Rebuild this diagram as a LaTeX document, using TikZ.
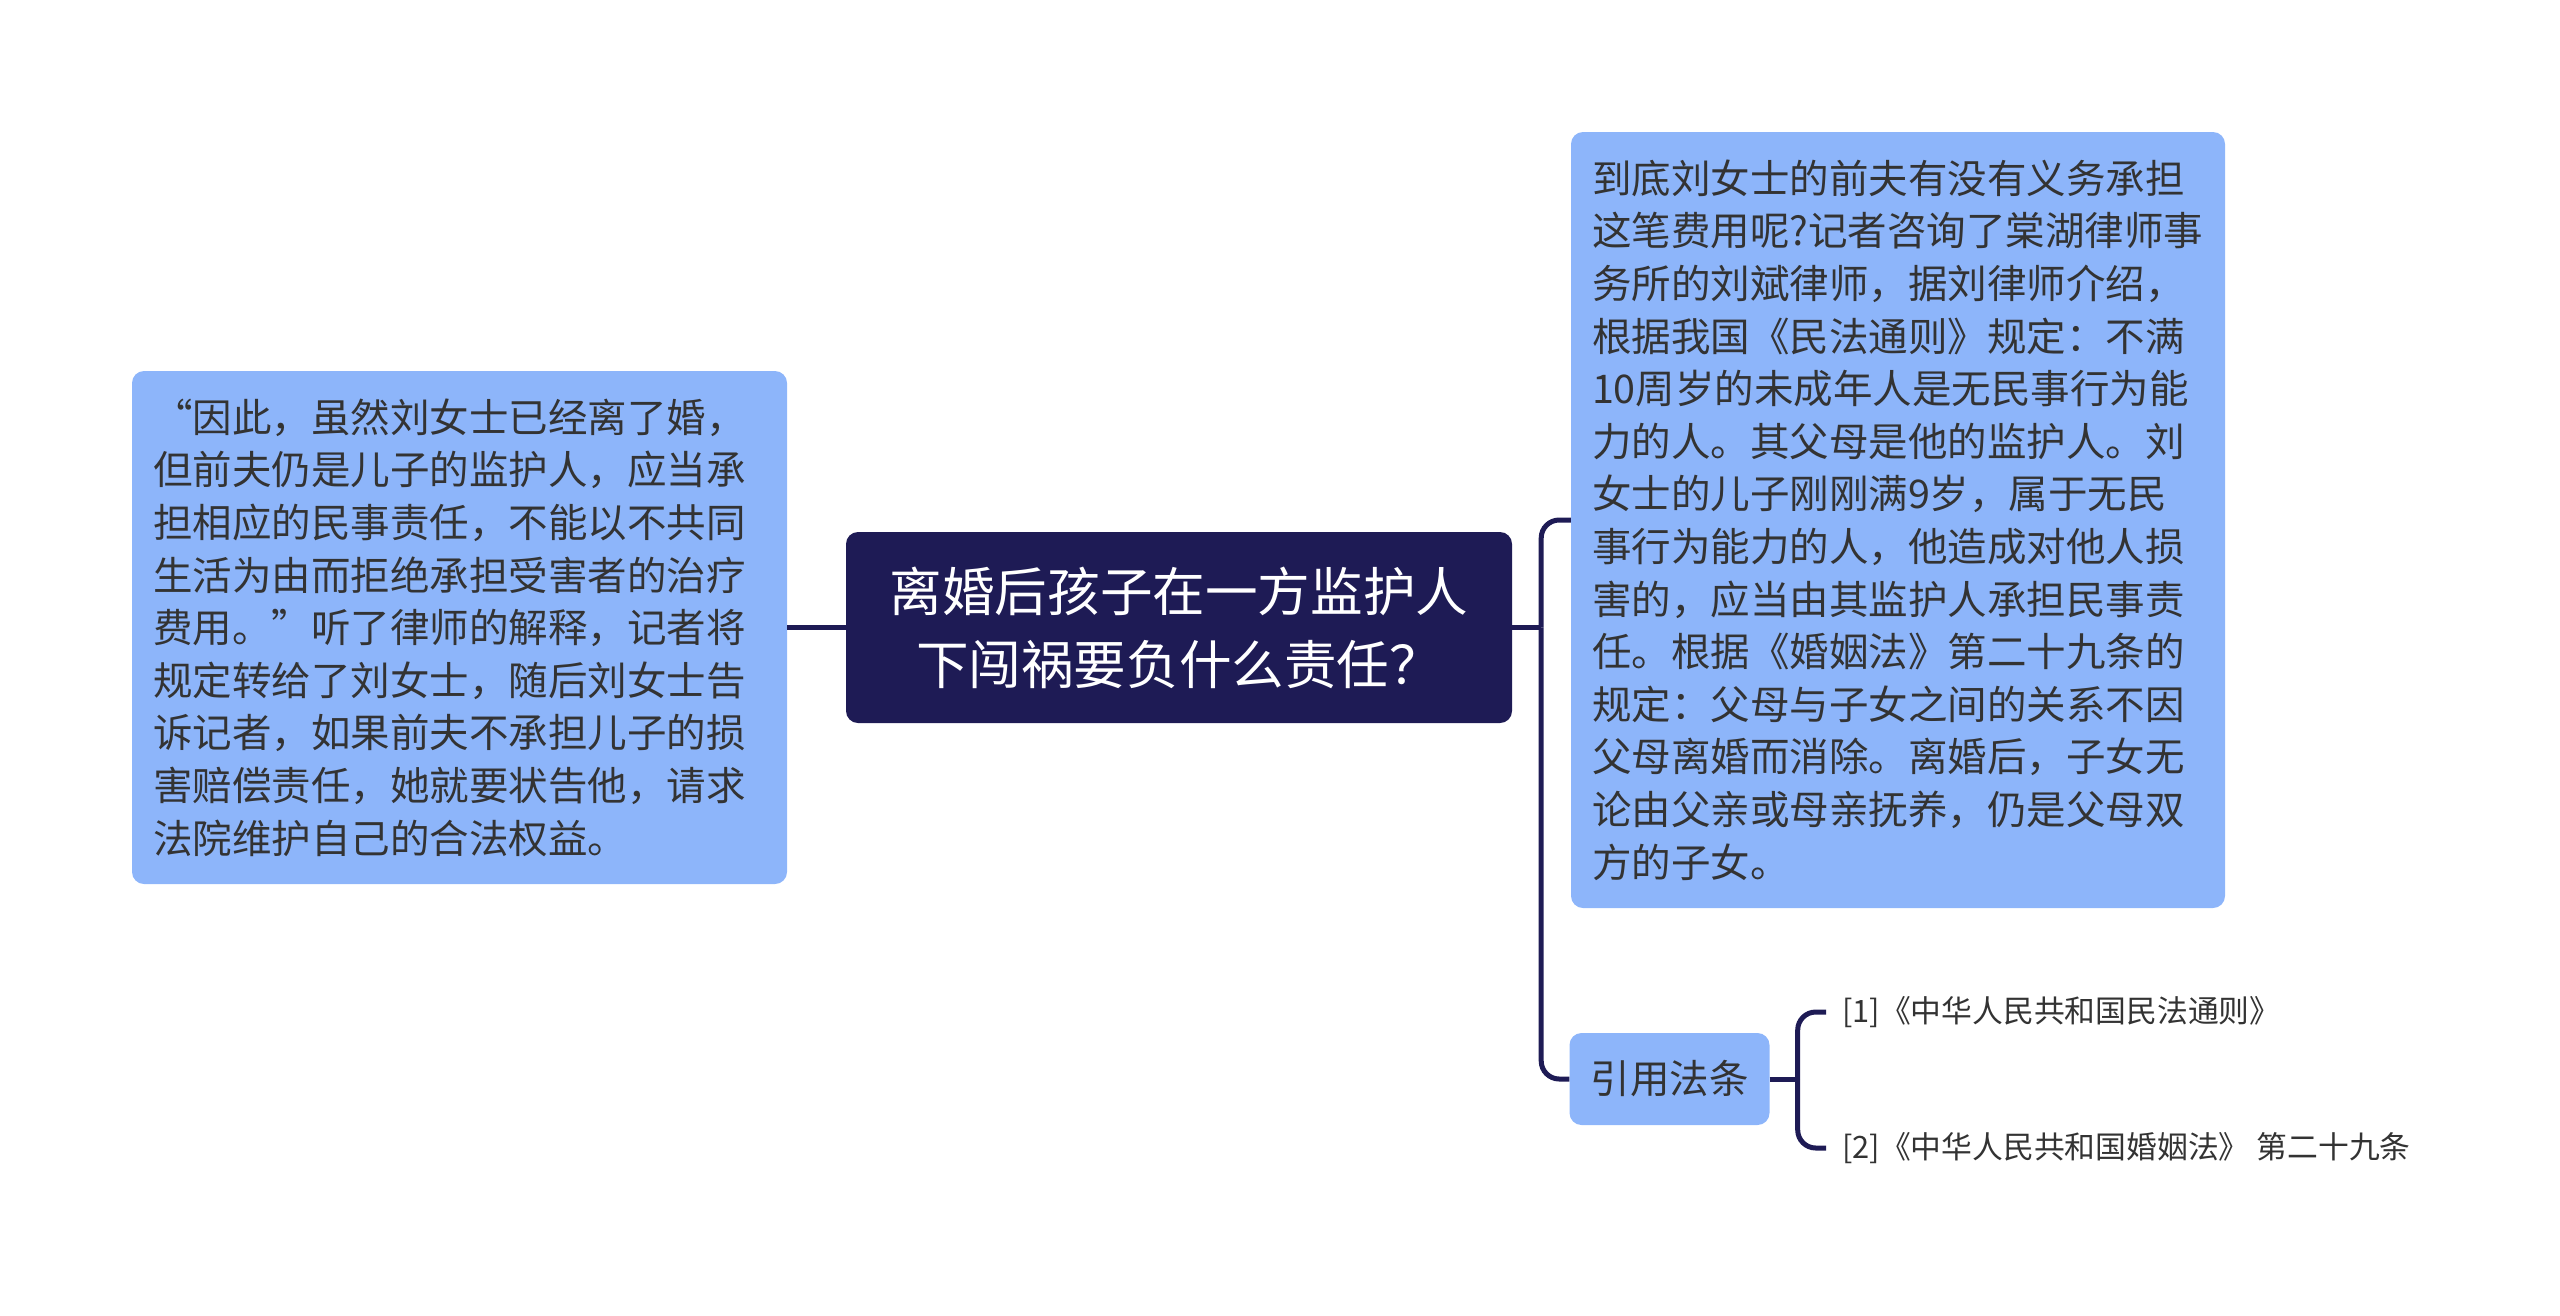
\documentclass[tikz,border=0pt]{standalone}
\usepackage{fontspec}
\setmainfont{Noto Sans CJK SC}
\usetikzlibrary{positioning}

\definecolor{navy}{HTML}{1E1B55}
\definecolor{leafblue}{HTML}{8DB5FA}
\definecolor{inktext}{HTML}{333333}

\begin{document}
\begin{tikzpicture}[
		x=1pt, y=-1pt,
		root/.style={rounded corners=12pt, fill=navy, text=white, align=center, minimum width=666pt, minimum height=191pt, font=\fontsize{52.6pt}{73pt}\selectfont},
		topic/.style={rounded corners=12pt, fill=leafblue, text=inktext, align=left, inner xsep=21pt, font=\fontsize{39.5pt}{52.6pt}\selectfont},
		citation/.style={anchor=west, text=inktext, inner xsep=16pt, font=\fontsize{30.8pt}{36pt}\selectfont},
		link/.style={draw=navy, line width=5pt, rounded corners=18pt}
		]
		
		\useasboundingbox (0,0) rectangle (2560,1315);
		
		% Central topic
		\node[root] at (1179,627.5) (root) {离婚后孩子在一方监护人\\下闯祸要负什么责任？};
		
		% Left branch
		\node[topic, text width=613pt, minimum height=513pt] at (459.5,627.5) (advice) {“因此，虽然刘女士已经离了婚，\\但前夫仍是儿子的监护人，应当承\\担相应的民事责任，不能以不共同\\生活为由而拒绝承担受害者的治疗\\费用。”听了律师的解释，记者将\\规定转给了刘女士，随后刘女士告\\诉记者，如果前夫不承担儿子的损\\害赔偿责任，她就要状告他，请求\\法院维护自己的合法权益。};
		
		% Right branches
		\node[topic, text width=612pt, minimum height=776pt] at (1898,520) (lawyer) {到底刘女士的前夫有没有义务承担\\这笔费用呢?记者咨询了棠湖律师事\\务所的刘斌律师，据刘律师介绍，\\根据我国《民法通则》规定：不满\\10周岁的未成年人是无民事行为能\\力的人。其父母是他的监护人。刘\\女士的儿子刚刚满9岁，属于无民\\事行为能力的人，他造成对他人损\\害的，应当由其监护人承担民事责\\任。根据《婚姻法》第二十九条的\\规定：父母与子女之间的关系不因\\父母离婚而消除。离婚后，子女无\\论由父亲或母亲抚养，仍是父母双\\方的子女。};
		\node[topic, align=center, minimum width=197pt, minimum height=92pt] at (1669.5,1079) (laws) {引用法条};
		
		% Cited laws
		\foreach \i/\y/\label in {1/1012/{[1]《中华人民共和国民法通则》}, 2/1148/{[2]《中华人民共和国婚姻法》 第二十九条}}
		\node[citation] at (1826,\y) (law\i) {\label};
		
		% Branch points
		\coordinate (hub) at ([xshift=29pt]root.east);
		\coordinate (lawhub) at ([xshift=28pt]laws.east);
		
		% Connectors
		\draw[link] (root.west) -- (advice.east);
		\draw[link] (root.east) -- (hub);
		\draw[link] (lawyer.west) -| (hub);
		\draw[link] (laws.west) -| (hub);
		\draw[link] (laws.east) -- (lawhub);
		\foreach \i in {1,2}
		\draw[link] (law\i.west) -| (lawhub);
		
	\end{tikzpicture}
\end{document}
